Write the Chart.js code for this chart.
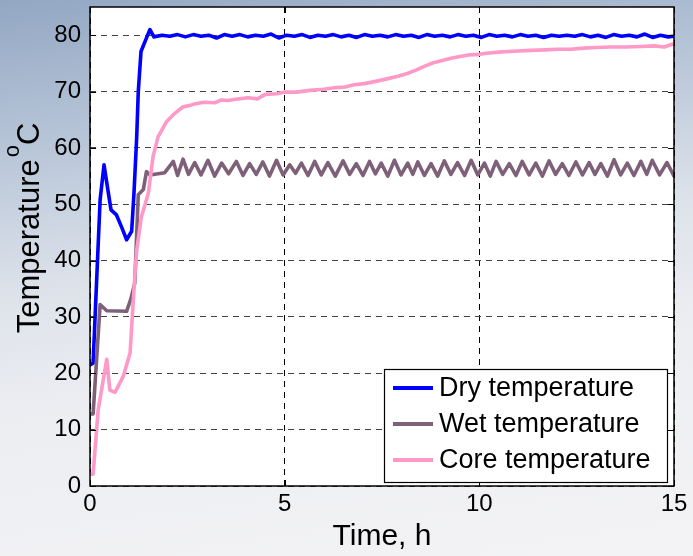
<!DOCTYPE html>
<html>
<head>
<meta charset="utf-8">
<script src="https://cdn.jsdelivr.net/npm/chart.js@4/dist/chart.umd.min.js"></script>
<style>
  html, body { margin: 0; padding: 0; }
  body {
    width: 693px; height: 556px; overflow: hidden;
    background: linear-gradient(172deg, #93a7c3 0%, #b6c4d7 22%, #dde2ea 45%, #edeef2 65%, #f3f3f5 100%);
  }
  canvas { display: block; }
</style>
</head>
<body>
<canvas id="tempChart" width="693" height="556"></canvas>
<script>
// drying run: temperatures (degC) against time (h)
var dryTime = [0, 0.08, 0.18, 0.26, 0.36, 0.46, 0.54, 0.68, 0.82, 0.94, 1.07, 1.13, 1.2, 1.24, 1.31, 1.42, 1.54, 1.64,
  1.85, 2.05, 2.25, 2.45, 2.65, 2.85, 3.05, 3.25, 3.45, 3.65, 3.85, 4.05, 4.25, 4.45, 4.65, 4.85, 5.05, 5.25, 5.45,
  5.65, 5.85, 6.05, 6.25, 6.45, 6.65, 6.85, 7.05, 7.25, 7.45, 7.65, 7.85, 8.05, 8.25, 8.45, 8.65, 8.85, 9.05, 9.25,
  9.45, 9.65, 9.85, 10.05, 10.25, 10.45, 10.65, 10.85, 11.05, 11.25, 11.45, 11.65, 11.85, 12.05, 12.25, 12.45, 12.65,
  12.85, 13.05, 13.25, 13.45, 13.65, 13.85, 14.05, 14.25, 14.45, 14.65, 14.85, 15];
var dryTemp = [21.5, 21.8, 38, 50.8, 57.0, 52.5, 49.0, 48.1, 45.8, 43.7, 45.2, 52, 62, 70, 77.1, 79.0, 81.0, 79.7,
  80.0, 79.8, 80.1, 79.7, 80.1, 79.8, 80.0, 79.5, 80.1, 79.8, 80.1, 79.7, 80.0, 79.8, 80.2, 79.5, 80.0, 79.8, 80.1,
  79.6, 80.0, 79.8, 80.1, 79.7, 80.0, 79.6, 80.1, 79.8, 80.0, 79.7, 80.1, 79.8, 80.0, 79.6, 80.1, 79.8, 80.0, 79.7,
  80.1, 79.8, 80.0, 79.6, 80.1, 79.8, 80.0, 79.7, 80.1, 79.8, 80.0, 79.6, 80.0, 79.8, 80.0, 79.8, 80.1,
  79.7, 80.0, 79.6, 80.1, 79.8, 80.0, 79.7, 80.2, 79.6, 80.0, 79.7, 79.8];

var wetTime = [0, 0.08, 0.26, 0.43, 0.94, 1.05, 1.15, 1.24, 1.37, 1.45, 1.54, 1.92,
  2.14, 2.25, 2.39, 2.53, 2.69, 2.85, 3.03, 3.2, 3.38, 3.56, 3.76, 3.93, 4.1, 4.27, 4.44, 4.61, 4.79, 4.96,
  5.13, 5.28, 5.43, 5.6, 5.77, 5.94, 6.11, 6.3, 6.5, 6.67, 6.84, 7.01, 7.18, 7.33, 7.48, 7.65, 7.82, 7.99,
  8.16, 8.29, 8.42, 8.59, 8.76, 8.93, 9.1, 9.27, 9.44, 9.62, 9.79, 9.96, 10.13, 10.28, 10.43, 10.6, 10.77, 10.94,
  11.1, 11.28, 11.45, 11.62, 11.79, 11.96, 12.13, 12.3, 12.48, 12.65, 12.82, 12.97, 13.12, 13.29, 13.46, 13.63,
  13.8, 13.97, 14.15, 14.3, 14.44, 14.63, 14.82, 15];
var wetTemp = [12.8, 12.8, 32.2, 31.1, 31.0, 33.2, 36.0, 51.7, 52.6, 55.8, 55.2, 55.6,
  57.6, 55.1, 58.0, 55.3, 57.4, 55.2, 57.8, 55.0, 57.3, 55.4, 57.6, 55.1, 57.2, 55.3, 57.5, 55.0, 57.8, 55.2,
  57.0, 55.5, 57.3, 55.1, 57.6, 55.2, 57.4, 55.0, 57.7, 55.3, 57.2, 55.1, 57.6, 55.4, 57.3, 55.0, 57.8, 55.2,
  57.3, 55.3, 57.5, 55.1, 57.2, 55.0, 57.7, 55.3, 57.4, 55.1, 57.8, 55.2, 57.3, 55.0, 57.6, 55.3, 57.2, 55.1,
  57.6, 55.2, 57.3, 55.0, 57.7, 55.3, 57.2, 55.1, 57.5, 55.2, 57.4, 55.3, 57.2, 55.0, 57.9, 55.2,
  57.3, 55.1, 57.6, 55.3, 57.8, 55.2, 57.4, 55.0];

var coreTime = [0, 0.08, 0.21, 0.34, 0.43, 0.51, 0.64, 0.85, 1.03, 1.07, 1.14, 1.2, 1.32, 1.45, 1.5, 1.62, 1.75,
  1.97, 2.14, 2.39, 2.55, 2.68, 2.92, 3.2, 3.37, 3.55, 3.7, 4.05, 4.3, 4.5, 4.8, 5.0, 5.3, 5.64, 6.0, 6.32, 6.55,
  6.78, 7.05, 7.34, 7.6, 7.91, 8.15, 8.37, 8.6, 8.82, 9.05, 9.27, 9.5, 9.73, 10.0, 10.18, 10.5, 10.75, 11.0,
  11.32, 11.7, 12.0, 12.35, 12.68, 13.0, 13.36, 13.75, 14.15, 14.5, 14.75, 14.95];
var coreTemp = [2.1, 2.1, 13.5, 18.8, 22.5, 17.0, 16.6, 19.4, 23.6, 28.3, 36.0, 41.9, 47.8, 50.8, 52.0, 58.5, 62.0,
  64.7, 65.9, 67.3, 67.5, 67.8, 68.1, 68.0, 68.5, 68.4, 68.6, 68.9, 68.7, 69.5, 69.6, 69.9, 69.9, 70.2, 70.4, 70.7, 70.8,
  71.2, 71.4, 71.8, 72.2, 72.7, 73.2, 73.8, 74.5, 75.1, 75.5, 75.9, 76.2, 76.5, 76.6, 76.8, 77.0, 77.1, 77.2,
  77.3, 77.4, 77.5, 77.5, 77.7, 77.8, 77.9, 77.9, 78.0, 78.1, 77.9, 78.4];

var seriesNames = ["Dry temperature", "Wet temperature", "Core temperature"];
var seriesColors = ["#0000ff", "#7f6079", "#ff99c8"];

var FONT = "'Liberation Sans', Arial, sans-serif";

function toPoints(xs, ys) {
  return xs.map(function (x, i) { return { x: x, y: ys[i] }; });
}

// white plot area, drawn before the grid
var plotBackground = {
  id: 'plotBackground',
  beforeDraw: function (chart) {
    var a = chart.chartArea, ctx = chart.ctx;
    ctx.save();
    ctx.fillStyle = '#ffffff';
    ctx.fillRect(a.left, a.top, a.right - a.left, a.bottom - a.top);
    ctx.restore();
  }
};

// box frame with inward ticks, legend box, y axis title with superscript
var frameAndLegend = {
  id: 'frameAndLegend',
  afterDraw: function (chart) {
    var a = chart.chartArea, ctx = chart.ctx;
    var xs = chart.scales.x, ys = chart.scales.y;
    ctx.save();
    ctx.strokeStyle = '#000';
    ctx.lineWidth = 1.5;
    ctx.strokeRect(a.left, a.top, a.right - a.left, a.bottom - a.top);
    ctx.lineWidth = 1;
    ctx.beginPath();
    ys.ticks.forEach(function (t) {
      var py = Math.round(ys.getPixelForValue(t.value)) + 0.5;
      ctx.moveTo(a.left, py); ctx.lineTo(a.left + 6, py);
      ctx.moveTo(a.right, py); ctx.lineTo(a.right - 6, py);
    });
    xs.ticks.forEach(function (t) {
      var px = Math.round(xs.getPixelForValue(t.value)) + 0.5;
      ctx.moveTo(px, a.bottom); ctx.lineTo(px, a.bottom - 6);
      ctx.moveTo(px, a.top); ctx.lineTo(px, a.top + 6);
    });
    ctx.stroke();

    // legend
    var bw = 283, bh = 113;
    var bx = a.right - 7 - bw, by = a.bottom - 4 - bh;
    ctx.fillStyle = '#fff';
    ctx.fillRect(bx, by, bw, bh);
    ctx.strokeStyle = '#000';
    ctx.lineWidth = 1.2;
    ctx.strokeRect(bx + 0.5, by + 0.5, bw, bh);
    ctx.font = '27px ' + FONT;
    ctx.textBaseline = 'middle';
    chart.data.datasets.forEach(function (ds, i) {
      var ry = by + 19 + i * 36;
      ctx.strokeStyle = ds.borderColor;
      ctx.lineWidth = 4;
      ctx.beginPath();
      ctx.moveTo(bx + 9, ry); ctx.lineTo(bx + 49, ry);
      ctx.stroke();
      ctx.fillStyle = '#000';
      ctx.fillText(ds.label, bx + 55, ry + 1);
    });

    // y title: Temperature °C with raised o
    ctx.translate(28, 228);
    ctx.rotate(-Math.PI / 2);
    ctx.fillStyle = '#000';
    ctx.textBaseline = 'alphabetic';
    ctx.textAlign = 'left';
    ctx.font = '31px ' + FONT;
    var w1 = ctx.measureText('Temperature').width;
    var wc = ctx.measureText('C').width;
    ctx.font = '22px ' + FONT;
    var wo = ctx.measureText('o').width;
    var total = w1 + 2 + wo + wc;
    var x0 = -total / 2;
    ctx.font = '31px ' + FONT;
    ctx.fillText('Temperature', x0, 11);
    ctx.font = '22px ' + FONT;
    ctx.fillText('o', x0 + w1 + 2, -9);
    ctx.font = '31px ' + FONT;
    ctx.fillText('C', x0 + w1 + 2 + wo, 11);
    ctx.restore();
  }
};

var tempChart = new Chart(document.getElementById('tempChart'), {
  type: 'line',
  data: {
    datasets: [
      { label: seriesNames[0], data: toPoints(dryTime, dryTemp), borderColor: seriesColors[0], order: 2 },
      { label: seriesNames[1], data: toPoints(wetTime, wetTemp), borderColor: seriesColors[1], order: 1 },
      { label: seriesNames[2], data: toPoints(coreTime, coreTemp), borderColor: seriesColors[2], order: 0 }
    ]
  },
  options: {
    responsive: false,
    animation: false,
    layout: { padding: { top: 7, right: 19, left: 0, bottom: 0 } },
    elements: {
      line: { borderWidth: 3.6, tension: 0, borderJoinStyle: 'round', borderCapStyle: 'round' },
      point: { radius: 0 }
    },
    plugins: {
      legend: { display: false },
      tooltip: { enabled: false }
    },
    scales: {
      x: {
        type: 'linear', min: 0, max: 15,
        ticks: { stepSize: 5, color: '#000', font: { family: FONT, size: 24 }, padding: 4, maxRotation: 0 },
        grid: { color: '#000', lineWidth: 1, drawTicks: false },
        border: { display: false, dash: [6, 5] },
        title: { display: true, text: 'Time, h', color: '#000', font: { family: FONT, size: 30 }, padding: { top: 0, bottom: 1 } },
        afterFit: function (s) { s.height = 70; s.paddingLeft = 0; s.paddingRight = 0; }
      },
      y: {
        min: 0, max: 85,
        afterBuildTicks: function (s) { s.ticks = s.ticks.filter(function (t) { return t.value % 10 === 0; }); },
        ticks: { stepSize: 10, color: '#000', font: { family: FONT, size: 24 }, padding: 9 },
        grid: { color: '#444', lineWidth: 1, drawTicks: false },
        border: { display: false, dash: [6, 5] },
        afterFit: function (s) { s.width = 90; s.paddingTop = 0; s.paddingBottom = 0; }
      }
    }
  },
  plugins: [plotBackground, frameAndLegend]
});
</script>
</body>
</html>
